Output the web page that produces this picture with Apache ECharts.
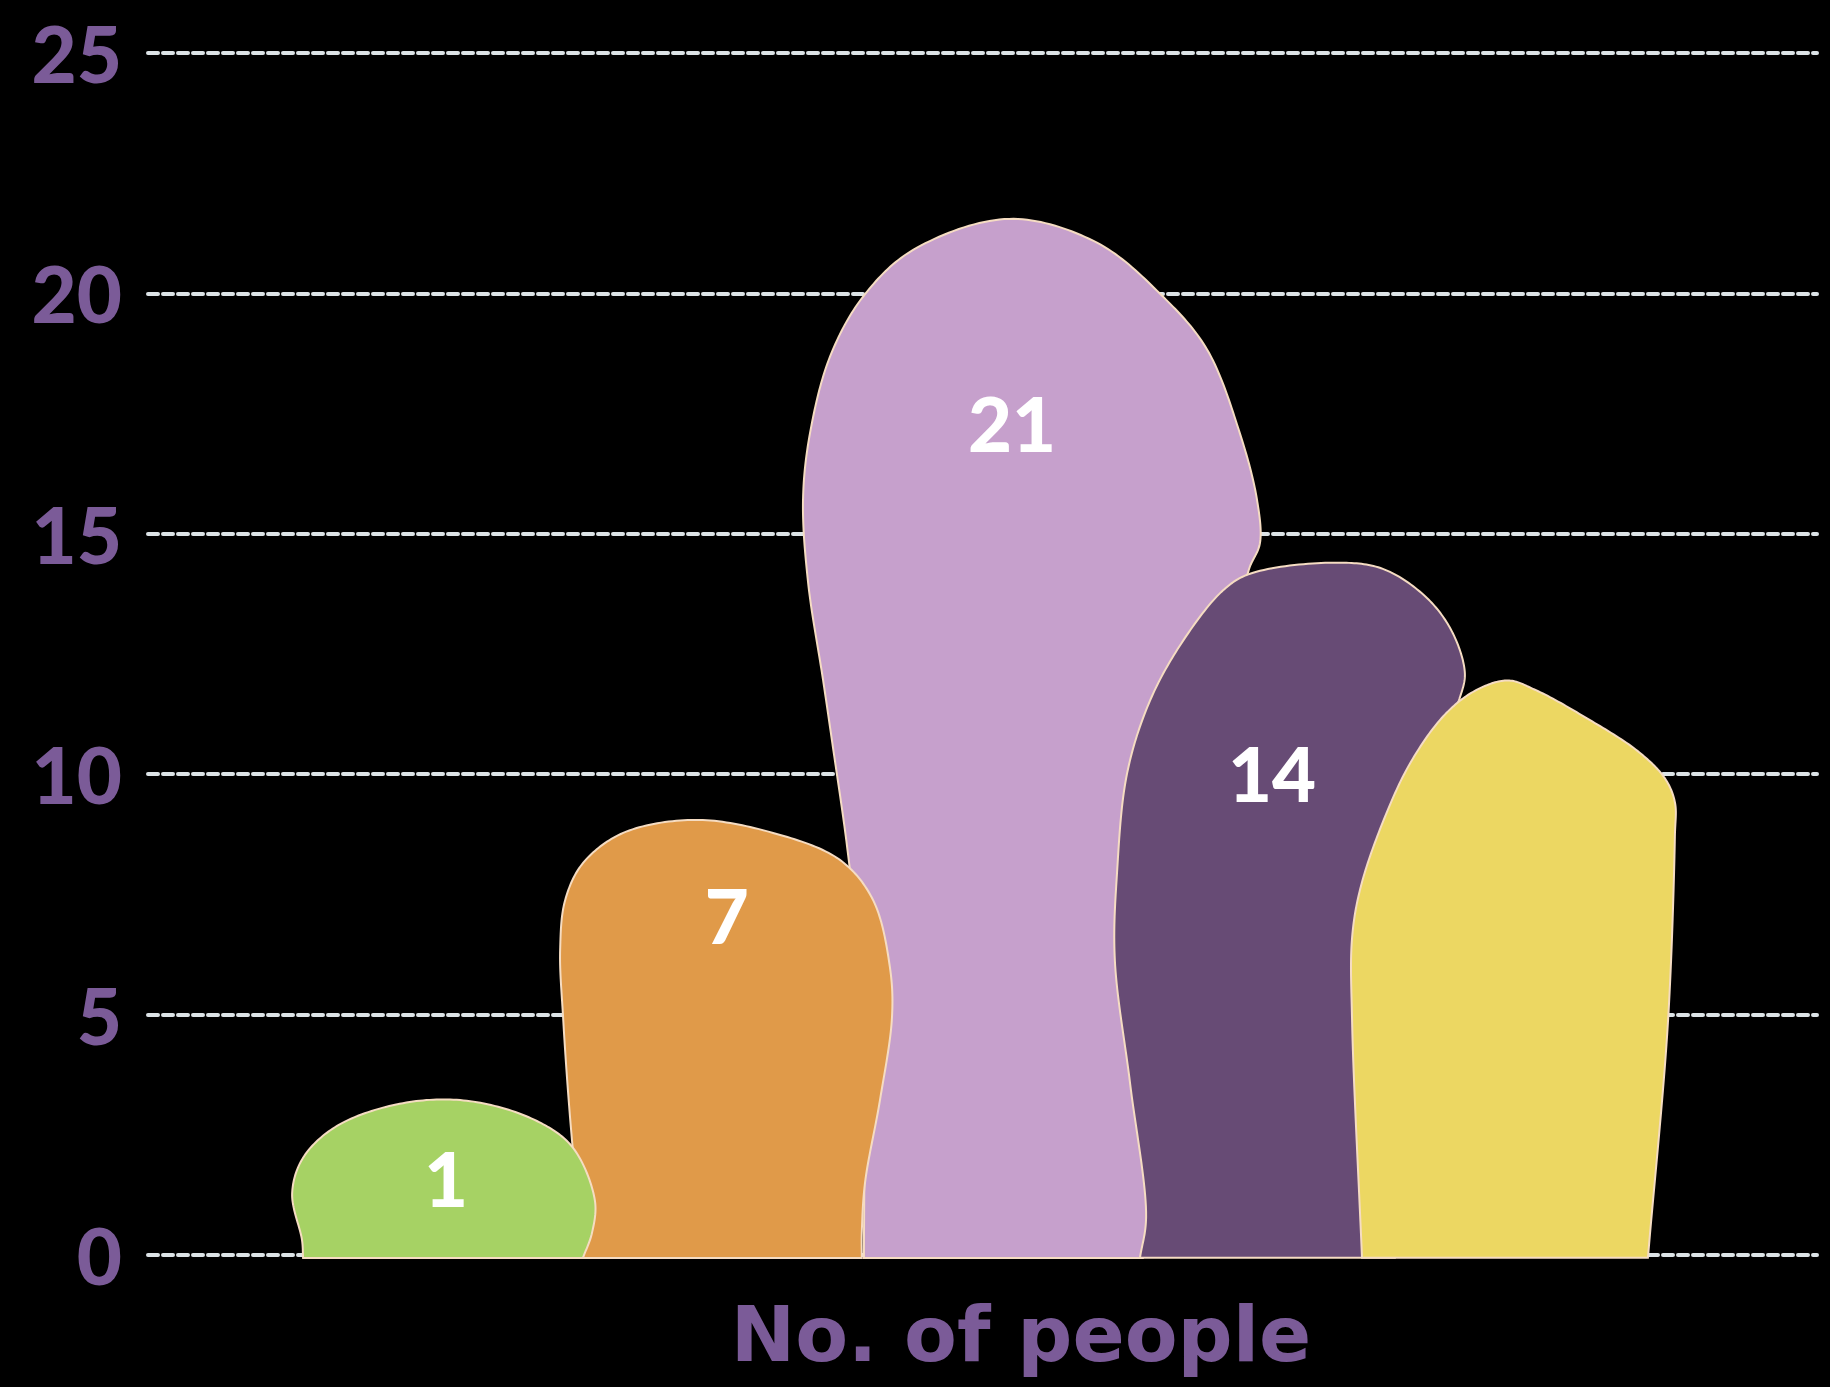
<!DOCTYPE html>
<html>
<head>
<meta charset="utf-8">
<style>
  html, body { margin: 0; padding: 0; background: #000; }
  #chart { width: 1830px; height: 1387px; }
</style>
<script src="https://cdn.jsdelivr.net/npm/echarts@6/dist/echarts.min.js"></script>
</head>
<body>
<div id="chart"></div>
<script>
// ---------------- DATA ----------------
const categories = ['Group 1', 'Group 2', 'Group 3', 'Group 4', 'Group 5'];
// numbers printed on each shape (the last shape has no printed number)
const counts = [1, 7, 21, 14, null];
// visible height of each shape, read against the y axis
const shapeTops = [3.2, 9.05, 21.55, 14.4, 11.95];
// y axis
const yMin = 0, yMax = 25, yStep = 5;
const axisTitle = 'No. of people';

// ---------------- STYLE ----------------
const fills = ['#a6d264', '#e09a49', '#c6a0cc', '#674b75', '#ecd762'];
const stackOrder = [5, 4, 1, 2, 3];           // drawing order (z2)
const purple = '#7b5b98';
const outlineColor = '#f5dcc2';
// hand-drawn outlines: [u = offset in band widths from band centre, v = fraction of shape height]
const outlines = [
  [[-0.582,-0.02],[-0.586,0.097],[-0.623,0.40],[-0.582,0.632],[-0.455,0.839],[-0.208,0.987],[0.043,1.0],[0.293,0.871],[0.428,0.697],[0.510,0.355],[0.499,0.142],[0.465,-0.02]],
  [[-0.534,-0.007],[-0.583,0.317],[-0.609,0.547],[-0.620,0.701],[-0.601,0.816],[-0.534,0.901],[-0.384,0.970],[-0.115,1.0],[0.177,0.970],[0.427,0.908],[0.551,0.816],[0.614,0.662],[0.622,0.547],[0.577,0.356],[0.521,0.166],[0.509,0.051],[0.509,-0.007]],
  [[-0.483,-0.003],[-0.483,0.150],[-0.505,0.294],[-0.546,0.394],[-0.599,0.490],[-0.636,0.555],[-0.692,0.649],[-0.711,0.729],[-0.685,0.793],[-0.610,0.867],[-0.486,0.925],[-0.299,0.970],[0.06,1.0],[0.389,0.977],[0.636,0.925],[0.801,0.874],[0.924,0.793],[0.988,0.729],[0.999,0.687],[0.961,0.664],[0.924,0.632],[0.831,0.584],[0.737,0.516],[0.662,0.439],[0.587,0.362],[0.531,0.285],[0.550,0.166],[0.606,0.037],[0.561,-0.003]],
  [[-0.450,-0.004],[-0.427,0.055],[-0.487,0.248],[-0.544,0.426],[-0.536,0.551],[-0.498,0.696],[-0.412,0.801],[-0.289,0.887],[-0.139,0.960],[-0.038,0.984],[0.272,1.0],[0.459,0.991],[0.624,0.949],[0.721,0.898],[0.766,0.840],[0.747,0.805],[0.710,0.772],[0.635,0.657],[0.560,0.513],[0.523,0.296],[0.504,-0.004]],
  [[-0.619,-0.005],[-0.656,0.405],[-0.656,0.553],[-0.623,0.642],[-0.537,0.758],[-0.435,0.859],[-0.308,0.941],[-0.192,0.983],[-0.073,1.0],[0.032,0.983],[0.223,0.934],[0.413,0.877],[0.514,0.830],[0.552,0.788],[0.552,0.729],[0.526,0.405],[0.451,-0.005]]
];
const labelSpots = [[-0.047,0.503],[0.004,0.782],[0.071,0.803],[0.044,0.697],[0,0.6]];

// centripetal Catmull-Rom through the outline points
function smoothCurve(pts, steps) {
  const out = [];
  const n = pts.length;
  const lerp = (a, b, ta, tb, t) => {
    const d = tb - ta;
    return [(tb - t) / d * a[0] + (t - ta) / d * b[0], (tb - t) / d * a[1] + (t - ta) / d * b[1]];
  };
  const knot = (a, b) => Math.max(Math.pow(Math.hypot(b[0] - a[0], b[1] - a[1]), 0.5), 1e-3);
  for (let i = 0; i < n - 1; i++) {
    const p1 = pts[i], p2 = pts[i + 1];
    const p0 = i > 0 ? pts[i - 1] : [2 * p1[0] - p2[0], 2 * p1[1] - p2[1]];
    const p3 = i + 2 < n ? pts[i + 2] : [2 * p2[0] - p1[0], 2 * p2[1] - p1[1]];
    const t0 = 0, t1 = t0 + knot(p0, p1), t2 = t1 + knot(p1, p2), t3 = t2 + knot(p2, p3);
    for (let s = 0; s < steps; s++) {
      const t = t1 + (t2 - t1) * s / steps;
      const A1 = lerp(p0, p1, t0, t1, t), A2 = lerp(p1, p2, t1, t2, t), A3 = lerp(p2, p3, t2, t3, t);
      const B1 = lerp(A1, A2, t0, t2, t), B2 = lerp(A2, A3, t1, t3, t);
      out.push(lerp(B1, B2, t1, t2, t));
    }
  }
  out.push(pts[n - 1]);
  return out;
}

function renderBlob(params, api) {
  const i = params.dataIndex;
  const base = api.coord([api.value(0), 0]);
  const top = api.coord([api.value(0), api.value(1)]);
  const bw = api.size([1, 0])[0];
  const h = base[1] - top[1];
  const pts = outlines[i].map(([u, v]) => [base[0] + u * bw, base[1] - v * h]);
  const children = [{
    type: 'polygon',
    z2: stackOrder[i],
    shape: { points: smoothCurve(pts, 20) },
    style: { fill: fills[i], stroke: outlineColor, lineWidth: 2 }
  }];
  const c = api.value(2);
  if (c !== null && c !== undefined && !isNaN(c)) {
    const [du, dv] = labelSpots[i];
    children.push({
      type: 'text',
      z2: 50,
      x: base[0] + du * bw,
      y: base[1] - dv * h,
      style: {
        text: String(c), fill: '#ffffff', fontFamily: 'Lato', fontWeight: 900,
        fontSize: 76, align: 'center', verticalAlign: 'middle'
      }
    });
  }
  return { type: 'group', children };
}

const chart = echarts.init(document.getElementById('chart'), null, { renderer: 'svg' });
chart.setOption({
  backgroundColor: '#000000',
  animation: false,
  grid: [
    { left: 148, right: 13, top: 53, bottom: 132 },
    { left: 325, right: 169, top: 53, bottom: 132 }
  ],
  xAxis: [
    { gridIndex: 0, type: 'category', data: categories, show: false },
    {
      gridIndex: 1, type: 'category', data: categories,
      axisLine: { show: false }, axisTick: { show: false }, axisLabel: { show: false },
      name: axisTitle, nameLocation: 'middle', nameGap: 41,
      nameTextStyle: { color: purple, fontFamily: 'DejaVu Sans', fontWeight: 'bold', fontSize: 77, padding: [0, 0, 0, 56] }
    }
  ],
  yAxis: [
    {
      gridIndex: 0, type: 'value', min: yMin, max: yMax, interval: yStep,
      axisLine: { show: false }, axisTick: { show: false },
      axisLabel: { color: purple, fontFamily: 'Lato', fontWeight: 900, fontSize: 78, margin: 26 },
      splitLine: { lineStyle: { color: '#dce3e6', width: 4, type: [10, 5], cap: 'round' } }
    },
    { gridIndex: 1, type: 'value', min: yMin, max: yMax, interval: yStep, show: false, splitLine: { show: false } }
  ],
  series: [{
    type: 'custom',
    xAxisIndex: 1, yAxisIndex: 1,
    renderItem: renderBlob,
    encode: { x: 0, y: 1 },
    data: categories.map((c, i) => [i, shapeTops[i], counts[i] === null ? '-' : counts[i]])
  }]
});
</script>
</body>
</html>
